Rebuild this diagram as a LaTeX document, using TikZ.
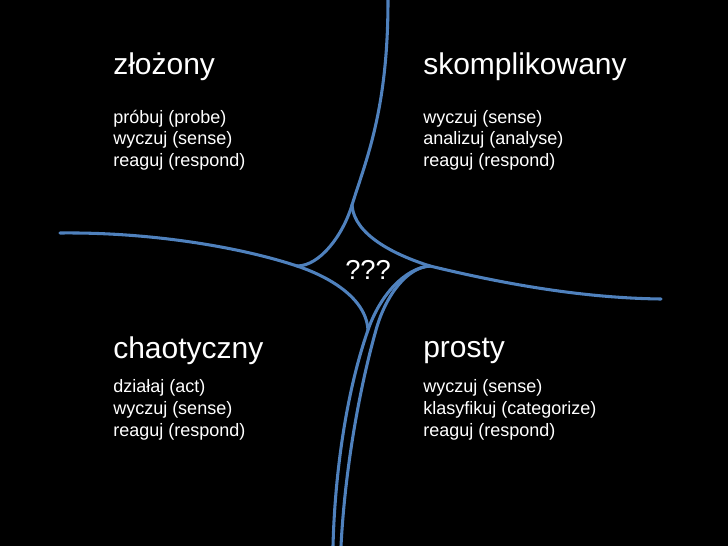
\documentclass[tikz,border=0pt]{standalone}
\usepackage{fontspec}
\setmainfont{Liberation Sans}
\definecolor{curveblue}{RGB}{79,129,189}
\begin{document}
\begin{tikzpicture}[x=0.75pt,y=-0.75pt,
  curve/.style={draw=curveblue,line width=2.3pt,line cap=round,line join=round},
  title/.style={anchor=base west,inner sep=0pt,text=white,font=\fontsize{22.5}{27}\selectfont},
  body/.style={anchor=base west,inner sep=0pt,text=white,font=\fontsize{13.5}{16}\selectfont},
  qq/.style={anchor=base west,inner sep=0pt,text=white,font=\fontsize{20.5}{24}\selectfont}]
\fill[black] (0,0) rectangle (728,546);
\useasboundingbox (0,0) rectangle (728,546);
% cusps and ends
\coordinate (Lend) at (60,233);
\coordinate (L) at (297,266);
\coordinate (Ttop) at (388,0);
\coordinate (T) at (352,205);
\coordinate (R) at (430,266);
\coordinate (Rend) at (661,299);
\coordinate (B) at (368,330);
\coordinate (Bo) at (376,330);
\coordinate (Bin) at (333,546);
\coordinate (Bout) at (341,546);
% tails
\draw[curve] (Lend) .. controls (150,232) and (240,247) .. (L);
\draw[curve] (Ttop) .. controls (388,110) and (366,160) .. (T);
\draw[curve] (R) .. controls (500,283) and (580,298) .. (Rend);
% arcs
\draw[curve] (L) .. controls (320,266) and (343,235) .. (T);
\draw[curve] (T) .. controls (354,235) and (395,255) .. (R);
\draw[curve] (L) .. controls (327,276) and (366,297) .. (B);
\draw[curve] (R) .. controls (405,268) and (380,295) .. (B)
                 .. controls (347,390) and (335,470) .. (Bin);
\draw[curve] (R) .. controls (408,267) and (386,294) .. (Bo)
                 .. controls (359,390) and (345,470) .. (Bout);
% texts
\node[title] (tl) at (113,74) {złożony};
\node[body] (tl1) at (113,123) {próbuj (probe)};
\node[body] (tl2) at (113,144.5) {wyczuj (sense)};
\node[body] (tl3) at (113,166) {reaguj (respond)};
\node[title] (tr) at (423,74) {skomplikowany};
\node[body] (tr1) at (423,123) {wyczuj (sense)};
\node[body] (tr2) at (423,144.5) {analizuj (analyse)};
\node[body] (tr3) at (423,166) {reaguj (respond)};
\node[title] (bl) at (113,358) {chaotyczny};
\node[body] (bl1) at (113,392) {działaj (act)};
\node[body] (bl2) at (113,414) {wyczuj (sense)};
\node[body] (bl3) at (113,436) {reaguj (respond)};
\node[title] (br) at (423,357) {prosty};
\node[body] (br1) at (423,392) {wyczuj (sense)};
\node[body] (br2) at (423,414) {klasyfikuj (categorize)};
\node[body] (br3) at (423,436) {reaguj (respond)};
\node[qq] (q) at (345,279) {???};
\end{tikzpicture}
\end{document}
